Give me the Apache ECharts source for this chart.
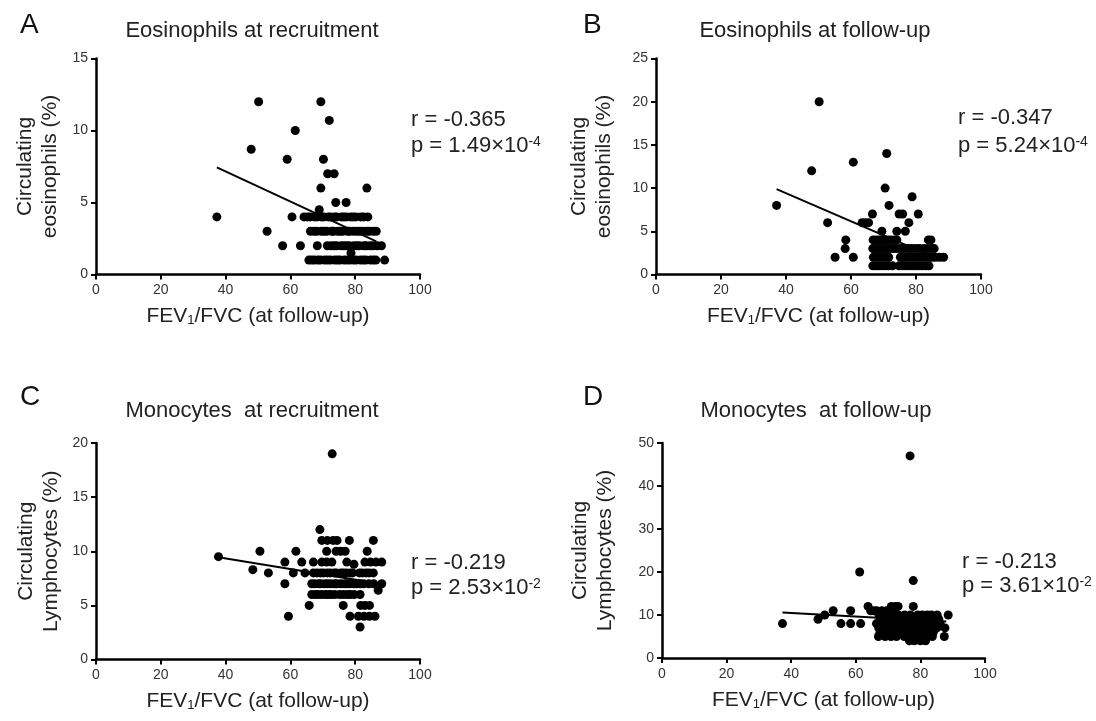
<!DOCTYPE html>
<html><head><meta charset="utf-8">
<script src="https://cdn.jsdelivr.net/npm/echarts@6/dist/echarts.min.js"></script>
<style>html,body{margin:0;padding:0;background:#fff}#c{width:1096px;height:721px}</style>
</head><body><div id="c"></div>
<script>
// ---------- data ----------
const xTicks = [0, 20, 40, 60, 80, 100];
const yTicksA = [0, 5, 10, 15];
const yTicksB = [0, 5, 10, 15, 20, 25];
const yTicksC = [0, 5, 10, 15, 20];
const yTicksD = [0, 10, 20, 30, 40, 50];

// A: eosinophils at recruitment vs FEV1/FVC
const eosRecruit = [
 [37.3,4],[47.9,8.7],[50.2,12],[52.8,3],[57.6,2],[59.0,8],[60.5,4],[61.5,10],[63.1,2],[68.3,2],[69.4,12],[72.0,10.7],[70.2,8],[71.5,7],[73.5,7],[69.4,6],[83.6,6],[74.0,5],[77.2,5],[68.9,4.5],[78.7,1.5],
 [64.2,4],[65.3,4],[66.1,4],[67.4,4],[68.2,4],[69.6,4],[70.3,4],[71.7,4],[72.4,4],[73.6,4],[74.3,4],[75.8,4],[76.5,4],[77.3,4],[78.6,4],[79.4,4],[80.2,4],[81.7,4],[82.6,4],[83.9,4],
 [66.2,3],[67.3,3],[68.1,3],[69.5,3],[70.4,3],[71.2,3],[72.7,3],[73.3,3],[74.6,3],[75.4,3],[76.2,3],[77.7,3],[78.3,3],[79.5,3],[80.6,3],[81.4,3],[82.3,3],[83.5,3],[84.4,3],[85.6,3],[86.5,3],
 [71.4,2],[72.6,2],[73.5,2],[74.3,2],[75.7,2],[76.6,2],[77.4,2],[78.2,2],[79.6,2],[80.5,2],[81.3,2],[82.7,2],[83.4,2],[84.6,2],[85.5,2],[86.8,2],[88.1,2],
 [65.7,1],[66.6,1],[67.4,1],[68.5,1],[69.3,1],[70.6,1],[71.5,1],[72.4,1],[73.7,1],[74.5,1],[75.3,1],[76.6,1],[77.5,1],[78.4,1],[79.5,1],[80.3,1],[81.6,1],[82.5,1],[83.3,1],[84.7,1],[85.6,1],[86.4,1],[89.1,1]
];
// B: eosinophils at follow-up
const eosFollow = [
 [37.1,8],[47.9,12],[50.2,20],[52.8,6],[55.1,2],[58.2,3],[58.4,4],[60.7,2],[60.7,13],[63.4,6],[64.4,6],[65.4,6],[66.6,7],[69.5,5],[70.5,10],[71.0,14],[71.7,8],[74.1,5],[74.8,7],[75.9,7],[76.7,5],[77.8,6],[78.8,9],[80.7,7],
 [66.8,4],[67.7,4],[68.6,4],[69.5,4],[70.4,4],[71.3,4],[72.2,4],[73.3,4],[74.1,4],[83.8,4],[84.6,4],
 [66.7,3],[67.6,3],[68.5,3],[69.4,3],[70.3,3],[71.2,3],[72.1,3],[73.0,3],[74.0,3],[75.1,3],[76.0,3],[77.2,3],[78.1,3],[79.0,3],[80.2,3],[81.1,3],[82.4,3],[83.6,3],[84.6,3],[85.6,3],
 [66.9,2],[67.9,2],[68.8,2],[69.8,2],[70.7,2],[71.6,2],[75.2,2],[76.1,2],[77.0,2],[78.0,2],[79.1,2],[80.0,2],[81.0,2],[82.1,2],[83.0,2],[84.1,2],[85.0,2],[86.0,2],[87.2,2],[88.5,2],
 [66.7,1],[67.6,1],[68.5,1],[69.5,1],[70.5,1],[71.5,1],[72.8,1],[74.8,1],[75.8,1],[76.8,1],[77.8,1],[78.8,1],[79.8,1],[80.8,1],[81.8,1],[82.9,1],[84.0,1]
];
// C: monocytes at recruitment
const monoRecruit = [
 [37.8,9.5],[48.4,8.3],[50.6,10],[53.2,8],[58.3,9],[58.3,7],[59.4,4],[60.9,8],[61.7,10],[63.5,9],[64.5,8],[65.8,5],[67.1,9],[69.1,12],[72.9,19],
 [69.7,11],[71.4,11],[73.2,11],[74.4,11],[78.2,11],[85.6,11],
 [71.2,10],[74.1,10],[75.5,10],[76.9,10],[83.7,10],
 [69.7,9],[71.2,9],[72.8,9],[77.4,9],[79.6,8.8],[83.0,9],[84.7,9],[86.4,9],[88.2,9],
 [67.1,8],[68.2,8],[69.3,8],[70.2,8],[71.4,8],[72.3,8],[73.5,8],[74.2,8],[75.6,8],[76.4,8],[77.3,8],[78.5,8],[79.2,8],[81.3,8],[82.2,8],[83.4,8],[84.3,8],[85.6,8],
 [66.6,7],[67.5,7],[68.7,7],[69.4,7],[70.6,7],[71.5,7],[72.4,7],[73.6,7],[74.3,7],[75.5,7],[76.7,7],[77.4,7],[78.3,7],[79.6,7],[80.4,7],[81.5,7],[82.6,7],[84.2,7],[85.7,7],[88.2,7],
 [87.1,6.4],
 [66.6,6],[67.7,6],[68.5,6],[69.6,6],[70.8,6],[71.6,6],[72.5,6],[73.7,6],[75.2,6],[76.4,6],[77.6,6],[78.5,6],[79.7,6],[81.5,6],
 [76.3,5],[81.7,5],[83.0,5],[84.4,5],
 [78.4,4],[81.0,4],[82.7,4],[84.4,4],[86.1,4],
 [81.5,3]
];
// D: monocytes at follow-up
const monoFollow = [
 [37.3,8],[48.3,9],[50.4,10],[53.0,11],[55.4,8],[58.4,8],[58.4,11],[61.5,8],[61.2,20],[63.8,12],[64.6,11],[65.7,11],[71.0,12],[72.3,12],[73.1,12],[77.8,12],[76.8,47],[77.8,18],[88.6,10],[87.6,7],[87.4,5],
 [66.5,11],[68.1,11],[69.6,11],[71.4,11],
 [67.2,10],[69.1,10],[70.8,10],[73.2,10],[75.1,10],[76.9,10],[79.2,10],[80.6,10],[82.1,10],[83.4,10],[85.2,10],
 [67.6,9],[69.4,9],[71.7,9],[73.5,9],[75.6,9],[77.3,9],[79.4,9],[81.1,9],[82.6,9],[84.2,9],[85.7,9],
 [66.4,8],[68.7,8],[70.5,8],[72.6,8],[74.4,8],[76.3,8],[78.6,8],[80.2,8],[81.5,8],[83.1,8],[84.6,8],[86.1,8],
 [67.1,7],[69.2,7],[71.3,7],[73.0,7],[75.2,7],[77.1,7],[78.9,7],[80.6,7],[82.2,7],[83.6,7],[85.1,7],
 [67.5,6],[69.6,6],[71.5,6],[73.7,6],[76.1,6],[78.2,6],[79.6,6],[81.2,6],[82.4,6],[84.0,6],
 [67.0,5],[69.1,5],[70.9,5],[72.6,5],[75.0,5],[77.6,5],[79.1,5],[80.4,5],[82.1,5],[83.7,5],
 [76.6,4],[78.1,4],[80.0,4],[81.6,4]
];
// regression line endpoints
const fitA = [[37.3,7.44],[86.5,2.3]];
const fitB = [[37.1,9.88],[88.0,1.6]];
const fitC = [[37.8,9.45],[87.7,7.0]];
const fitD = [[37.3,10.6],[88.0,8.5]];

const titles = ['Eosinophils at recruitment','Eosinophils at follow-up','Monocytes  at recruitment','Monocytes  at follow-up'];
const letters = ['A','B','C','D'];
const yNames = [['Circulating','eosinophils (%)'],['Circulating','eosinophils (%)'],['Circulating','Lymphocytes (%)'],['Circulating','Lymphocytes (%)']];
const rVals = ['-0.365','-0.347','-0.219','-0.213'];
const pMant = ['1.49','5.24','2.53','3.61'];
const pExp = ['-4','-4','-2','-2'];

// ---------- layout ----------
const FONT = '"Liberation Sans", Arial, Helvetica, sans-serif';
const layout = [
 {left:96, top:58.5, w:324, h:216, letterX:20, letterY:25, titleX:252, titleY:31, yNameX:38, annX:411, rY:120, pY:146},
 {left:656, top:58.5, w:325, h:216, letterX:583, letterY:25, titleX:815, titleY:31, yNameX:592, annX:958, rY:118, pY:146},
 {left:96, top:443, w:324, h:216.5, letterX:20, letterY:397, titleX:252, titleY:411, yNameX:39, annX:411, rY:563, pY:588},
 {left:662, top:443, w:323, h:215, letterX:583, letterY:397, titleX:816, titleY:411, yNameX:593, annX:962, rY:562, pY:586}
];
const datasets = [eosRecruit, eosFollow, monoRecruit, monoFollow];
const fits = [fitA, fitB, fitC, fitD];
const yTickSets = [yTicksA, yTicksB, yTicksC, yTicksD];

const grid = [], xAxis = [], yAxis = [], series = [], graphic = [];
const axisCommon = {
  axisLine:{show:true, onZero:false, lineStyle:{color:'#000', width:2.5}},
  axisTick:{show:true, inside:false, length:5, lineStyle:{color:'#000', width:2}},
  axisLabel:{color:'#333', fontSize:14, fontFamily:FONT},
  splitLine:{show:false}
};
layout.forEach((L,i)=>{
  grid.push({left:L.left, top:L.top, width:L.w, height:L.h, containLabel:false});
  xAxis.push(Object.assign({}, axisCommon, {gridIndex:i, type:'value', min:xTicks[0], max:xTicks[xTicks.length-1], interval:xTicks[1]-xTicks[0],
     axisLabel:Object.assign({}, axisCommon.axisLabel, {margin:9})}));
  const yt = yTickSets[i];
  yAxis.push(Object.assign({}, axisCommon, {gridIndex:i, type:'value', min:yt[0], max:yt[yt.length-1], interval:yt[1]-yt[0],
     axisLabel:Object.assign({}, axisCommon.axisLabel, {margin:8})}));
  series.push({type:'scatter', xAxisIndex:i, yAxisIndex:i, data:datasets[i], symbol:'circle', symbolSize:9,
     itemStyle:{color:'#000', opacity:1}, silent:true, z:2});
  series.push({type:'line', xAxisIndex:i, yAxisIndex:i, data:fits[i], showSymbol:false, symbol:'none',
     lineStyle:{color:'#000', width:2}, silent:true, z:3});
  graphic.push({type:'text', x:L.letterX, y:L.letterY, style:{text:letters[i], fontSize:28, fontFamily:FONT, fill:'#111', textVerticalAlign:'middle'}});
  graphic.push({type:'text', x:L.titleX, y:L.titleY, style:{text:titles[i], fontSize:22, fontFamily:FONT, fill:'#222', textAlign:'center', textVerticalAlign:'middle'}});
  graphic.push({type:'text', x:L.yNameX, y:L.top + L.h/2, rotation:Math.PI/2,
     style:{text:yNames[i].join('\n'), fontSize:21, lineHeight:25, fontFamily:FONT, fill:'#222', textAlign:'center', textVerticalAlign:'middle'}});
  graphic.push({type:'text', x:L.left + L.w/2, y:L.top + L.h + 42,
     style:{text:'FEV{sub|1}/FVC (at follow-up)', fontSize:21, fontFamily:FONT, fill:'#222', textAlign:'center', textVerticalAlign:'middle',
       rich:{sub:{fontSize:13, fontFamily:FONT, fill:'#222', lineHeight:13, verticalAlign:'bottom', padding:[12,0,0,0]}}}});
  graphic.push({type:'text', x:L.annX, y:L.rY, style:{text:'r = '+rVals[i], fontSize:22, fontFamily:FONT, fill:'#222', textVerticalAlign:'middle'}});
  graphic.push({type:'text', x:L.annX, y:L.pY, style:{text:'p = '+pMant[i]+'\u00d710{sup|'+pExp[i]+'}', fontSize:22, fontFamily:FONT, fill:'#222', textVerticalAlign:'middle',
       rich:{sup:{fontSize:14, fontFamily:FONT, fill:'#222', lineHeight:14, verticalAlign:'top', padding:[0,0,12,0]}}}});
});

const chart = echarts.init(document.getElementById('c'), null, {renderer:'canvas'});
chart.setOption({animation:false, backgroundColor:'#fff', grid, xAxis, yAxis, series, graphic});
</script>
</body></html>
